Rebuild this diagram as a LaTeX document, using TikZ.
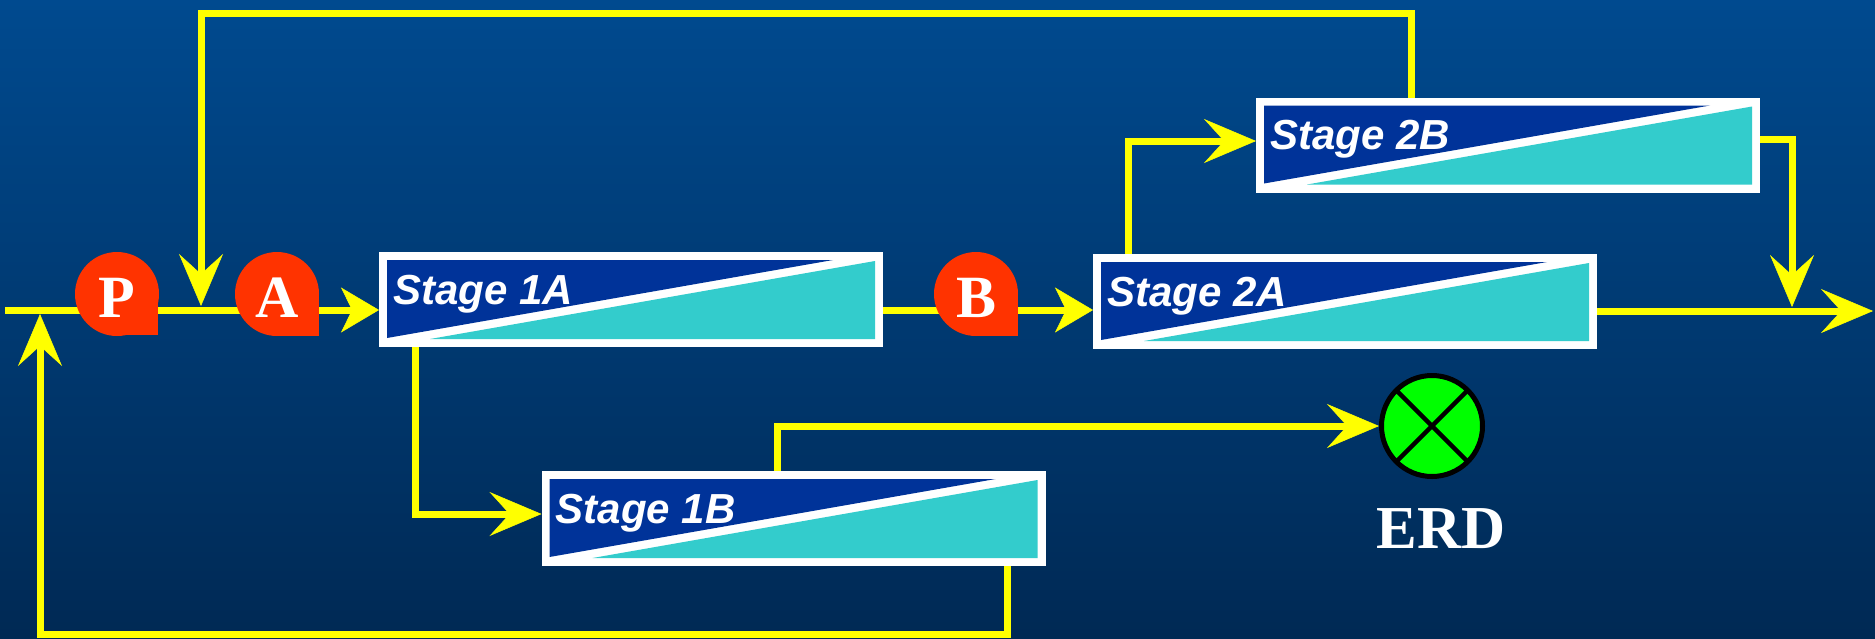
\documentclass[tikz,border=0pt]{standalone}
\usepackage{fontspec}
\setmainfont{Liberation Serif}
\newfontfamily\labelfont{Liberation Sans}
\usetikzlibrary{arrows.meta,calc}
\definecolor{bgtop}{RGB}{0,74,143}
\definecolor{bgbot}{RGB}{0,41,84}
\definecolor{stagedark}{RGB}{0,51,153}
\definecolor{stagecyan}{RGB}{51,204,204}
\definecolor{badgered}{RGB}{255,51,0}
\definecolor{flowyellow}{RGB}{255,255,0}
\definecolor{erdgreen}{RGB}{0,255,0}

% two-tone interior of a stage box: dark upper wedge, cyan lower wedge
\newcommand\stagefill[1]{%
  \fill[stagedark] ($(#1.center)+(-244,-39.5)$) -- ($(#1.center)+(202,-39.5)$)
                   -- ($(#1.center)+(-244,38.5)$) -- cycle;
  \fill[stagecyan] ($(#1.center)+(244,-38.5)$) -- ($(#1.center)+(244,39.5)$)
                   -- ($(#1.center)+(-201,39.5)$) -- cycle;
}

\begin{document}
\begin{tikzpicture}[x=1pt,y=-1pt,
  flow/.style={draw=flowyellow, line width=7pt},
  headlong/.style={-{Stealth[length=52pt,width=44pt,inset=20pt,line width=0.5pt]}},
  headshort/.style={-{Stealth[length=38pt,width=45pt,inset=11pt,line width=0.5pt]}},
  stagebox/.style={draw=white, fill=white, line width=8pt, outer sep=4pt,
    minimum width=496pt, minimum height=87pt, inner sep=0pt},
  stagelabel/.style={font=\labelfont\bfseries\itshape\fontsize{42}{48}\selectfont,
    text=white, inner sep=0pt, anchor=base west},
  badge/.style={circle, fill=badgered, minimum size=84pt, inner sep=0pt,
    text=white, font=\bfseries\fontsize{60}{66}\selectfont,
    text height=46pt, text depth=0pt},
]
\useasboundingbox (0,0) rectangle (1875,638);
\shade[top color=bgtop, bottom color=bgbot] (0,0) rectangle (1875,638);

% stage boxes
\node[stagebox] (s1a) at (631,299.5) {};
\node[stagebox] (s2a) at (1345,301.5) {};
\node[stagebox] (s2b) at (1508,145) {};
\node[stagebox] (s1b) at (793.5,518.5) {};
\stagefill{s1a}
\stagefill{s2a}
\stagefill{s2b}
\stagefill{s1b}
\node[stagelabel] (t1a) at ($(s1a.center)+(-238,4.5)$) {Stage 1A};
\node[stagelabel] (t2a) at ($(s2a.center)+(-238,4.5)$) {Stage 2A};
\node[stagelabel] (t2b) at ($(s2b.center)+(-238,4.5)$) {Stage 2B};
\node[stagelabel] (t1b) at ($(s1b.center)+(-238,4.5)$) {Stage 1B};

% ERD symbol
\node[circle, draw=black, fill=erdgreen, line width=5pt, minimum size=101pt,
      inner sep=0pt, outer sep=2.5pt] (erd) at (1432,426) {};
\draw[black, line width=4.5pt] ($(erd.center)+(45:49)$) -- ($(erd.center)+(225:49)$);
\draw[black, line width=4.5pt] ($(erd.center)+(135:49)$) -- ($(erd.center)+(315:49)$);
\node[font=\bfseries\fontsize{61}{70}\selectfont, text=white, anchor=base,
      inner sep=0pt] (erdlabel) at (1441,548) {ERD};

% free ends of the flow lines
\coordinate (in) at (5,310);
\coordinate (bl) at (40,634);
\coordinate (fbtip) at (40,314);
\coordinate (tl) at (201,13);
\coordinate (tltip) at (201,306);
\coordinate (join) at (1792,307);
\coordinate (out) at (1873,311);
\coordinate (m1) at ([yshift=-10.5pt]s1a.east);
\coordinate (m2) at ([yshift=-9.5pt]s2a.east);

% flow lines
\draw[flow,headshort] (in) -- (in -| s1a.west);
\draw[flow,headshort] (m1) -- (m1 -| s2a.west);
\draw[flow,headlong] (m2) -- (out);
\draw[flow,headlong] ([xshift=-217pt]s2a.north) |- ([yshift=4pt]s2b.west);
\draw[flow,headlong] ([yshift=6pt]s2b.east) -| (join);
\draw[flow,headlong] ([xshift=-97pt]s2b.north) |- (tl) -- (tltip);
\draw[flow,headlong] ([xshift=-216pt]s1a.south) |- ([yshift=4.5pt]s1b.west);
\draw[flow,headlong] ([xshift=-16.5pt]s1b.north) |- (erd.west);
\draw[flow,headlong] ([xshift=213.5pt]s1b.south) |- (bl) -- (fbtip);

% P, A, B markers on the feed lines
\coordinate (pc) at (117,294);
\coordinate (ac) at (277,294);
\coordinate (bc) at (976,294);
\fill[badgered] (pc) rectangle ++(41,41);
\fill[badgered] (ac) rectangle ++(42,42);
\fill[badgered] (bc) rectangle ++(42,42);
\node[badge] (p) at (pc) {P};
\node[badge] (a) at (ac) {A};
\node[badge] (b) at (bc) {B};
\end{tikzpicture}
\end{document}
